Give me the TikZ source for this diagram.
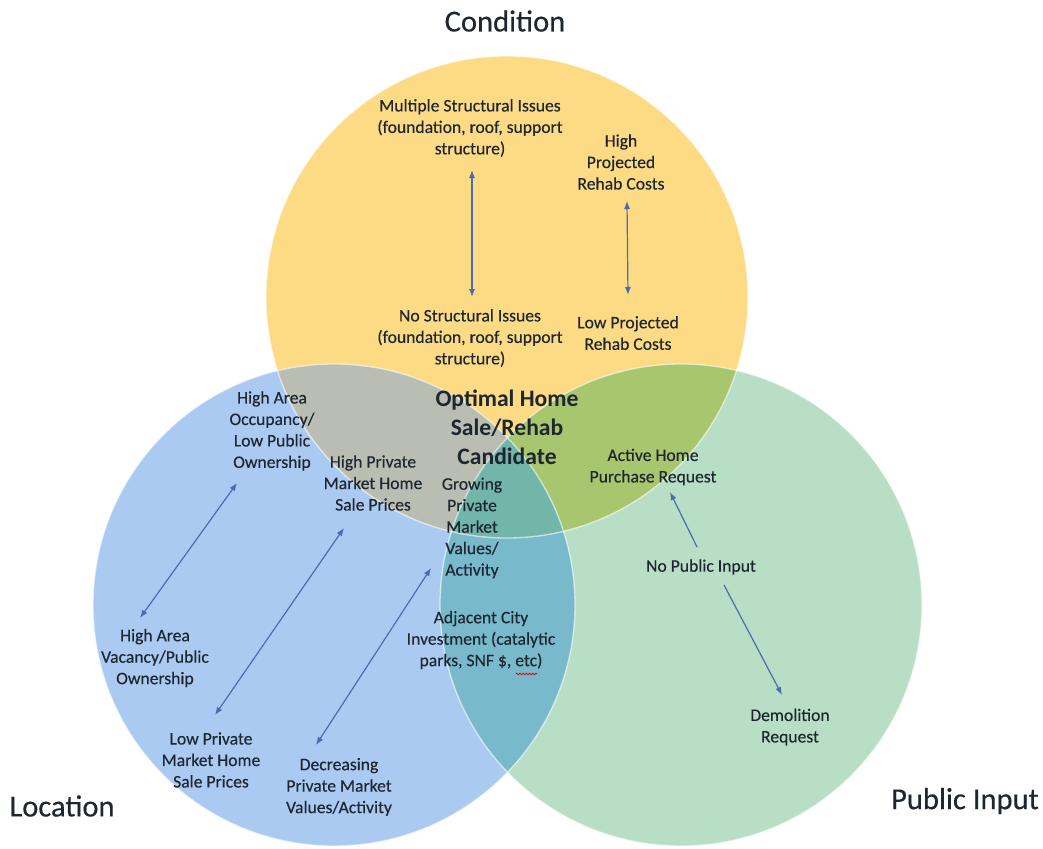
\documentclass[tikz,border=0pt]{standalone}
\usepackage{fontspec}
\setmainfont{Carlito}
\newfontfamily\lblfont{Carlito}[FakeBold=0.3]
\usetikzlibrary{arrows.meta,decorations.pathmorphing}
\definecolor{ycol}{HTML}{FDDA84}
\definecolor{bcol}{HTML}{AACAF2}
\definecolor{gcol}{HTML}{B8DEC5}
\definecolor{ybcol}{HTML}{B9BDB2}
\definecolor{ygcol}{HTML}{A8C66E}
\definecolor{bgcol}{HTML}{78BACB}
\definecolor{ybgcol}{HTML}{72B6AA}
\definecolor{arrcol}{HTML}{4A6DAE}
\definecolor{txtcol}{HTML}{1E2630}
\tikzset{
  lbl/.style={align=center, inner sep=0pt, text=txtcol, font=\lblfont\fontsize{13.2pt}{16.1pt}\selectfont},
  ctr/.style={align=center, inner sep=0pt, text=txtcol, font=\fontsize{17.7pt}{21.75pt}\selectfont\bfseries},
  ttl/.style={inner sep=0pt, text=txtcol, font=\lblfont\fontsize{22.9pt}{27pt}\selectfont},
  dbl/.style={draw=arrcol, line width=0.9pt, {Latex[length=6pt,width=4.6pt]}-{Latex[length=6pt,width=4.6pt]}},
  sgl/.style={draw=arrcol, line width=0.9pt, -{Latex[length=6pt,width=4.6pt]}},
  rim/.style={draw=white, line width=1pt, draw opacity=0.6}
}
\begin{document}
\begin{tikzpicture}[x=0.75pt,y=-0.75pt]
\useasboundingbox (0,0) rectangle (1043,849);
\fill[white] (0,0) rectangle (1043,849);
\coordinate (Y) at (507,297);
\coordinate (B) at (334,605);
\coordinate (G) at (681,605);
\def\rr{180.75pt}
% circles
\fill[ycol] (Y) circle[radius=\rr];
\fill[bcol] (B) circle[radius=\rr];
\fill[gcol] (G) circle[radius=\rr];
\begin{scope}\clip (Y) circle[radius=\rr]; \fill[ybcol] (B) circle[radius=\rr];\end{scope}
\begin{scope}\clip (Y) circle[radius=\rr]; \fill[ygcol] (G) circle[radius=\rr];\end{scope}
\begin{scope}\clip (B) circle[radius=\rr]; \fill[bgcol] (G) circle[radius=\rr];\end{scope}
\begin{scope}\clip (Y) circle[radius=\rr]; \clip (B) circle[radius=\rr]; \fill[ybgcol] (G) circle[radius=\rr];\end{scope}
\draw[rim] (Y) circle[radius=\rr];
\draw[rim] (B) circle[radius=\rr];
\draw[rim] (G) circle[radius=\rr];
% titles
\node[ttl] (cond) at (505,21) {Condition};
\node[ttl] (loc) at (62,806) {Location};
\node[ttl] (pub) at (965,801) {Public Input};
% labels
\node[lbl] (mult) at (470,128) {Multiple Structural Issues\\(foundation, roof, support\\structure)};
\node[lbl] (highcost) at (621,162) {High\\Projected\\Rehab Costs};
\node[lbl] (nostruct) at (470,338) {No Structural Issues\\(foundation, roof, support\\structure)};
\node[lbl] (lowcost) at (628,333) {Low Projected\\Rehab Costs};
\node[ctr] (opt) at (507,427) {Optimal Home\\Sale/Rehab\\Candidate};
\node[lbl] (highocc) at (272,431) {High Area\\Occupancy/\\Low Public\\Ownership};
\node[lbl] (highprice) at (373,483) {High Private\\Market Home\\Sale Prices};
\node[lbl] (growing) at (472,528) {Growing\\Private\\Market\\Values/\\Activity};
\node[lbl] (active) at (653,467) {Active Home\\Purchase Request};
\node[lbl] (nopub) at (701,567) {No Public Input};
\node[lbl] (demo) at (790,727) {Demolition\\Request};
\node[lbl] (adj) at (481,640) {Adjacent City\\Investment (catalytic\\parks, SNF \$, etc)};
\node[lbl] (vac) at (155,658) {High Area\\Vacancy/Public\\Ownership};
\node[lbl] (lowprice) at (211,760) {Low Private\\Market Home\\Sale Prices};
\node[lbl] (decr) at (339,787) {Decreasing\\Private Market\\Values/Activity};
% arrow end points
\coordinate (a1s) at (472,170); \coordinate (a1e) at (472,297);
\coordinate (a2s) at (627,201); \coordinate (a2e) at (628,295);
\coordinate (a3s) at (237,483); \coordinate (a3e) at (140,618);
\coordinate (a4s) at (344,528); \coordinate (a4e) at (215,715);
\coordinate (a5s) at (431,568); \coordinate (a5e) at (316,745);
\coordinate (a6s) at (697,547); \coordinate (a6e) at (670,492);
\coordinate (a7s) at (724,585); \coordinate (a7e) at (782,695);
\draw[dbl] (a1s) -- (a1e);
\draw[dbl] (a2s) -- (a2e);
\draw[dbl] (a3s) -- (a3e);
\draw[dbl] (a4s) -- (a4e);
\draw[dbl] (a5s) -- (a5e);
\draw[sgl] (a6s) -- (a6e);
\draw[sgl] (a7s) -- (a7e);
% spell-check squiggle under etc
\coordinate (sq1) at (516,674); \coordinate (sq2) at (537,674);
\draw[red!85!black, line width=0.5pt, decorate, decoration={zigzag, amplitude=0.7pt, segment length=2.4pt}] (sq1) -- (sq2);
\end{tikzpicture}
\end{document}
